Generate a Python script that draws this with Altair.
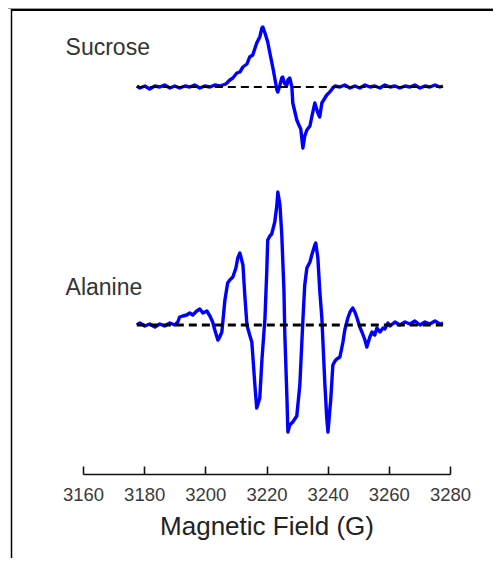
import altair as alt
import pandas as pd

# ---- data ----
suc_field = [3177.6, 3178.6, 3180.2, 3181.8, 3183.5, 3185.1, 3186.7, 3188.4, 3190.0, 3191.6,
             3193.3, 3194.9, 3196.5, 3198.2, 3199.8, 3201.5, 3203.1, 3204.7, 3206.7, 3208.0,
             3209.0, 3210.3, 3211.3, 3212.3, 3213.6, 3214.5, 3215.5, 3216.8, 3217.8, 3218.5,
             3218.8, 3219.5, 3220.4, 3221.1, 3222.1, 3222.7, 3223.4, 3223.7, 3224.4, 3225.0,
             3225.3, 3226.0, 3226.7, 3227.0, 3227.6, 3228.3, 3228.6, 3229.3, 3229.9, 3230.6,
             3231.2, 3231.9, 3232.5, 3233.2, 3234.2, 3234.8, 3235.8, 3236.8, 3237.4, 3238.1,
             3239.1, 3239.7, 3240.7, 3241.7, 3242.4, 3244.0, 3245.6, 3247.3, 3248.9, 3250.5,
             3252.2, 3253.8, 3255.4, 3257.1, 3258.7, 3260.4, 3262.0, 3263.6, 3265.3, 3266.9,
             3268.5, 3270.2, 3271.8, 3273.4, 3275.1, 3276.7, 3277.7]
suc_signal = [1, -1, 1, -2, 1, 0, 2, -1, 1, -1,
              1, 0, 2, -1, 1, 0, 2, 1, 3, 7,
              9, 14, 15, 20, 23, 30, 32, 44, 50, 59,
              60, 54, 45, 34, 19, 9, -3, -5, 2, 9,
              10, 3, 2, 7, 9, 0, -16, -25, -33, -38,
              -42, -61, -49, -43, -39, -30, -16, -26, -30, -16,
              -11, -8, -5, -1, 1, 0, 2, -1, 1, -1,
              2, 0, 1, -1, 2, 0, 1, -1, 1, 0,
              2, -1, 1, 0, 2, 0, 1]

ala_field = [3177.6, 3178.6, 3180.2, 3181.8, 3183.5, 3185.1, 3186.7, 3188.4, 3190.0, 3191.0,
             3191.6, 3192.6, 3193.9, 3194.9, 3195.9, 3197.2, 3198.2, 3199.2, 3200.5, 3201.5,
             3202.4, 3203.1, 3204.1, 3204.7, 3205.4, 3206.4, 3207.3, 3208.0, 3209.0, 3210.0,
             3210.6, 3211.3, 3212.3, 3212.9, 3213.6, 3214.5, 3215.2, 3216.2, 3216.8, 3217.8,
             3218.5, 3219.5, 3220.1, 3220.4, 3221.1, 3221.7, 3222.7, 3223.4, 3223.7, 3224.4,
             3225.0, 3225.7, 3226.0, 3226.7, 3227.0, 3227.6, 3228.6, 3229.9, 3230.9, 3231.9,
             3232.5, 3233.2, 3234.2, 3234.8, 3235.8, 3236.1, 3236.8, 3237.4, 3238.1, 3239.1,
             3239.7, 3240.1, 3240.7, 3241.0, 3241.7, 3242.4, 3243.0, 3244.0, 3245.0, 3245.6,
             3246.6, 3247.3, 3248.2, 3248.9, 3249.6, 3250.5, 3251.2, 3252.2, 3252.8, 3253.8,
             3254.5, 3255.4, 3256.1, 3257.1, 3258.1, 3258.7, 3259.7, 3260.4, 3262.0, 3263.6,
             3265.3, 3266.9, 3268.5, 3270.2, 3271.8, 3273.4, 3275.1, 3276.7, 3277.7]
ala_signal = [0, 2, -1, 1, -2, 1, -1, 2, 0, 3,
              8, 9, 10, 12, 10, 14, 16, 12, 14, 9,
              3, -5, -15, -12, -7, 25, 42, 45, 48, 57,
              67, 72, 60, 30, 0, -10, -17, -60, -83, -73,
              -35, 7, 55, 85, 89, 91, 103, 120, 133, 120,
              90, 35, -10, -75, -107, -100, -97, -91, -60, 5,
              40, 57, 63, 70, 80, 82, 67, 35, 7, -60,
              -93, -107, -85, -75, -40, -36, -34, -32, -17, -5,
              7, 13, 17, 13, 7, -2, -7, -15, -22, -12,
              -7, -10, -3, -7, -3, -4, 2, -1, 3, 0,
              3, 1, 4, 0, 3, 1, 4, 1, 2]

series_names = ["Sucrose", "Alanine"]
series_offsets = [387, 149]          # vertical offsets of the two stacked spectra
baseline_start = [3177.6, 3177.6]
baseline_end = [3277.7, 3277.7]
label_field = [3154.3, 3154.3]
label_level = [419, 179]

tick_values = [3160, 3180, 3200, 3220, 3240, 3260, 3280]

# ---- tables ----
rows = []
for f, s in zip(suc_field, suc_signal):
    rows.append({"series": "Sucrose", "B": f, "val": s + series_offsets[0]})
for f, s in zip(ala_field, ala_signal):
    rows.append({"series": "Alanine", "B": f, "val": s + series_offsets[1]})
spec_df = pd.DataFrame(rows)

base_df = pd.DataFrame({"series": series_names, "x0": baseline_start,
                        "x1": baseline_end, "val": series_offsets,
                        "w": [2, 3]})
lab_df = pd.DataFrame({"name": series_names, "B": label_field, "val": label_level})

FONT = "Liberation Sans"
xscale = alt.Scale(domain=[3160, 3280], nice=False, zero=False)
yscale = alt.Scale(domain=[0, 465], nice=False, zero=False)

traces = alt.Chart(spec_df).mark_line(color="#0000ff", strokeWidth=3.4, strokeJoin="round").encode(
    x=alt.X("B:Q", scale=xscale,
            axis=alt.Axis(orient="bottom", values=tick_values, format="d", grid=False,
                          domain=True, domainColor="#111", domainWidth=1.6,
                          ticks=False, labelFontSize=18.5, labelFont=FONT,
                          labelColor="#3a3a3a", labelPadding=11, labelOverlap=False,
                          labelBound=False, labelFlush=False,
                          title="Magnetic Field (G)", titleFontSize=26,
                          titleFont=FONT, titleFontWeight="normal",
                          titleColor="#222", titlePadding=10)),
    y=alt.Y("val:Q", scale=yscale, axis=None),
    detail="series:N",
)

dashes = alt.Chart(base_df).mark_rule(color="black", strokeDash=[8, 5]).encode(
    x=alt.X("x0:Q", scale=xscale,
            axis=alt.Axis(orient="top", offset=-465, values=tick_values, grid=False,
                          domain=False, labels=False, title=None, ticks=True,
                          tickSize=8, tickColor="#111", tickWidth=1.6)),
    x2="x1:Q",
    y=alt.Y("val:Q", scale=yscale, axis=None),
    strokeWidth=alt.StrokeWidth("w:Q", scale=None, legend=None),
)

labels = alt.Chart(lab_df).mark_text(align="left", baseline="alphabetic", fontSize=23,
                                     font=FONT, color="#333").encode(
    x=alt.X("B:Q", scale=xscale, axis=None),
    y=alt.Y("val:Q", scale=yscale, axis=None),
    text="name:N",
)

frame_df = pd.DataFrame({"k": [0]})
frame_top_gray = alt.Chart(frame_df).mark_rule(color="#999", strokeWidth=1).encode(
    x=alt.value(-75), x2=alt.value(410), y=alt.value(-0.5))
frame_top = alt.Chart(frame_df).mark_rule(color="black", strokeWidth=2).encode(
    x=alt.value(-72), x2=alt.value(410), y=alt.value(1))
frame_left = alt.Chart(frame_df).mark_rule(color="black", strokeWidth=1.5).encode(
    x=alt.value(-71.5), y=alt.value(0), y2=alt.value(560))

chart = alt.layer(frame_top_gray, frame_top, frame_left, traces, dashes, labels).properties(
    width=367, height=465,
    autosize=alt.AutoSizeParams(type="none"),
    padding={"left": 75, "top": 1, "right": 43, "bottom": 84},
    background="white",
).configure_view(stroke=None)

chart.save("out.html", embed_options={"renderer": "svg", "actions": False})
